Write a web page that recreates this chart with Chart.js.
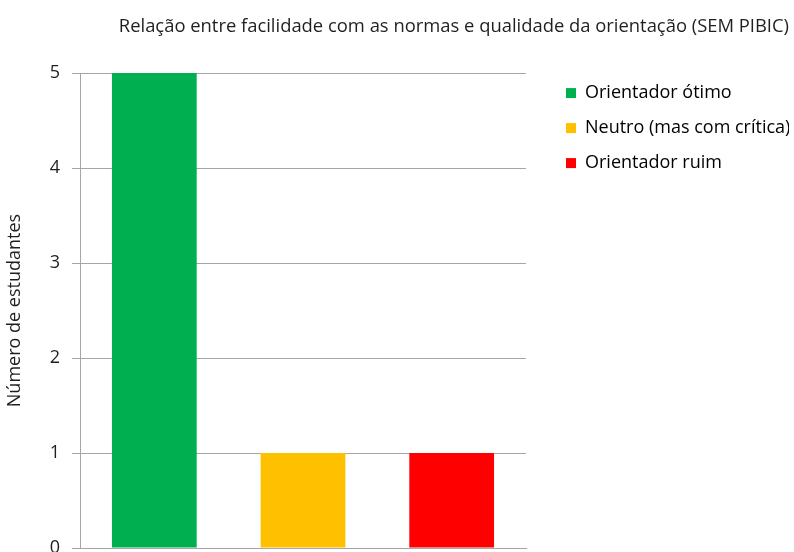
<!DOCTYPE html>
<html>
<head>
<meta charset="utf-8">
<script src="https://cdn.jsdelivr.net/npm/chart.js@4"></script>
<style>
  html, body { margin: 0; padding: 0; background: #fff; }
  #wrap { width: 794px; height: 552px; }
</style>
</head>
<body>
<div id="wrap"><canvas id="chart" width="794" height="552"></canvas></div>
<script>
  const categories = ["Orientador ótimo", "Neutro (mas com crítica)", "Orientador ruim"];
  const students = [5, 1, 1];
  const barColors = ["#00B050", "#FFC000", "#FF0000"];
  const yTicks = [0, 1, 2, 3, 4, 5];

  const gridGray = "#a6a6a6";
  const textColor = "#1f1f1f";

  // nudges legend into place like the original
  const layoutFix = {
    id: "layoutFix",
    afterLayout(chart) {
      chart.legend.left += 23;
      chart.legend.top -= 6;
    }
  };

  const ctx = document.getElementById("chart").getContext("2d");
  const chart = new Chart(ctx, {
    type: "bar",
    data: {
      labels: categories,
      datasets: [{
        label: "Número de estudantes",
        data: students,
        backgroundColor: barColors,
        borderWidth: 0,
        categoryPercentage: 1,
        barPercentage: 0.57
      }]
    },
    options: {
      responsive: false,
      animation: false,
      layout: { padding: { left: 0, right: 5, top: 0, bottom: 4 } },
      plugins: {
        title: {
          display: true,
          text: "Relação entre facilidade com as normas e qualidade da orientação (SEM PIBIC)",
          align: "end",
          color: textColor,
          font: { family: "Open Sans", size: 18.4, weight: "normal" },
          padding: { top: 16, bottom: 35 }
        },
        legend: {
          position: "right",
          align: "start",
          fullSize: false,
          labels: {
            color: textColor,
            font: { family: "Open Sans", size: 18 },
            boxWidth: 10,
            boxHeight: 10,
            padding: 17,
            generateLabels(c) {
              return categories.map((name, i) => ({
                text: name,
                fillStyle: barColors[i],
                strokeStyle: barColors[i],
                lineWidth: 0,
                index: i,
                datasetIndex: 0
              }));
            }
          },
          onClick() {}
        },
        tooltip: { enabled: false }
      },
      scales: {
        x: {
          grid: { display: false },
          border: { display: true, color: gridGray, width: 1 },
          ticks: { display: false },
          afterFit(scale) {
            scale.height = 0;
          }
        },
        y: {
          min: 0,
          max: 5,
          afterBuildTicks(scale) {
            scale.ticks = yTicks.map(v => ({ value: v }));
          },
          afterFit(scale) {
            scale.width = 80;
            scale.paddingTop = 0;
            scale.paddingBottom = 0;
          },
          grid: { color: gridGray, lineWidth: 1, tickLength: 8 },
          border: { display: true, color: gridGray, width: 1 },
          ticks: {
            color: textColor,
            padding: 12,
            font: { family: "Open Sans", size: 18 }
          },
          title: {
            display: true,
            text: "Número de estudantes",
            color: textColor,
            font: { family: "Open Sans", size: 18 }
          }
        }
      }
    },
    plugins: [layoutFix]
  });

  // legend width so the plot ends where the original does
  const origFit = chart.legend.fit;
  chart.legend.fit = function() {
    origFit.call(this);
    this.width = 263;
  };
  chart.update();
</script>
</body>
</html>
